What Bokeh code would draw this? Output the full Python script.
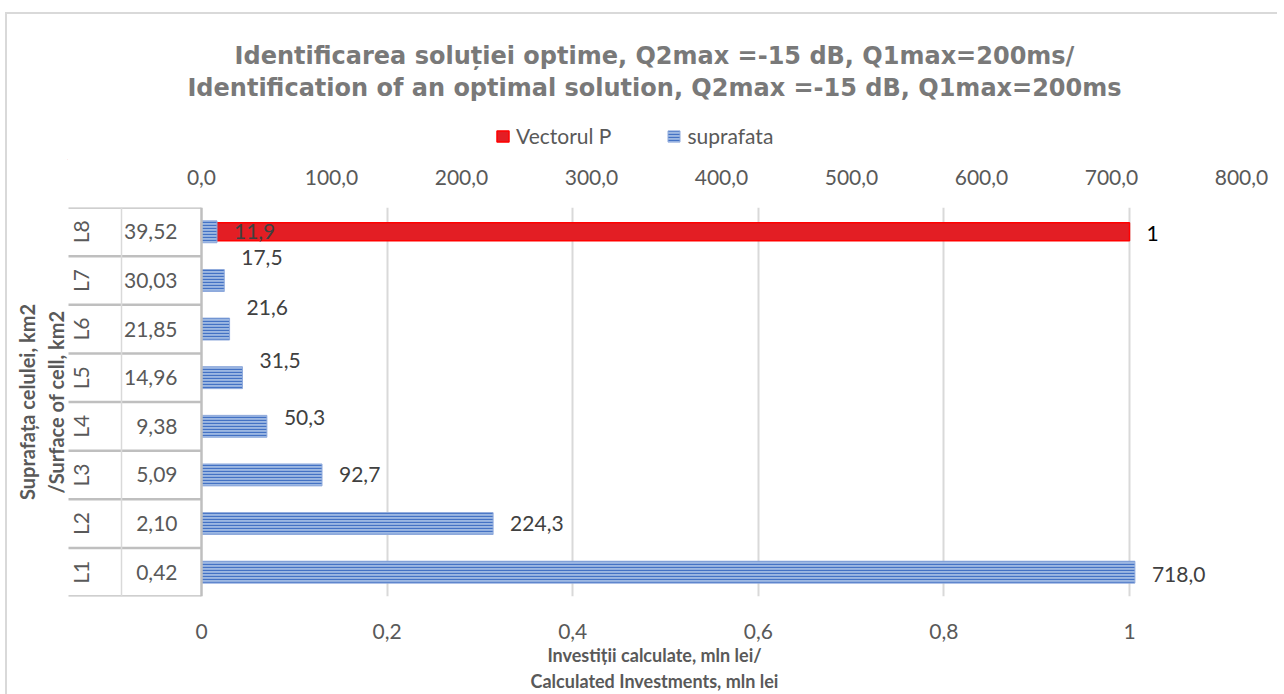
from math import pi
from bokeh.plotting import figure
from bokeh.layouts import column
from bokeh.models import (Range1d, FactorRange, LinearAxis, FixedTicker, Span,
                          Legend, LegendItem, Title, ColumnDataSource)
from bokeh.core.properties import value
from bokeh.embed import file_html
from bokeh.resources import INLINE

# ---------------- data ----------------
cells = ["L1", "L2", "L3", "L4", "L5", "L6", "L7", "L8"]
surface_km2 = [0.42, 2.10, 5.09, 9.38, 14.96, 21.85, 30.03, 39.52]
suprafata = [718.0, 224.3, 92.7, 50.3, 31.5, 21.6, 17.5, 11.9]       # top axis (mln lei)
vectorul_p = [0, 0, 0, 0, 0, 0, 0, 1]                                 # bottom axis
top_ticks = [0, 100, 200, 300, 400, 500, 600, 700, 800]
top_tick_labels = ["0,0", "100,0", "200,0", "300,0", "400,0", "500,0", "600,0", "700,0", "800,0"]
bottom_ticks = [0, 0.2, 0.4, 0.6, 0.8, 1.0]
bottom_tick_labels = ["0", "0,2", "0,4", "0,6", "0,8", "1"]
series_names = ["Vectorul P", "suprafata"]

title_1 = "Identificarea soluției optime, Q2max =-15 dB, Q1max=200ms/"
title_2 = "Identification of an optimal solution, Q2max =-15 dB, Q1max=200ms"
x_title = "Investiții calculate, mln lei/\nCalculated Investments, mln lei"
y_title = "Suprafața celulei, km2\n/Surface of cell, km2"

# ---------------- layout constants (page pixels) ----------------
OX, OY = 7, 14              # page position of the chart area (inside its border)
PAGE_R, PAGE_B = 1277, 694
W, H = PAGE_R - OX, PAGE_B - OY
HEAD_B = 160                # page y where header ends
HA = HEAD_B - OY
X0 = 201                    # page x of value 0
PX_BOT = 928.0              # px per bottom-axis unit
PX_TOP = 1.3                # px per top-axis unit
FL, FR, FT, FB = 67, 1241, 207, 599

def bx(px):
    return (px - X0) / PX_BOT

FONT = value("Lato")
GRAY = "#595959"
RED_STYLE = dict(fill_color="#E31E24", line_color="#FF0000", line_width=1.5)
BLUE_STYLE = dict(fill_color="#9DB8E2", line_color="#8FAADC", line_width=1,
                  hatch_pattern="horizontal_line", hatch_color="#4472C4",
                  hatch_scale=3, hatch_weight=1.3)

# ================= main chart =================
HB = H - HA
p = figure(width=W, height=HB, output_backend="svg", toolbar_location=None,
           title=None,
           x_range=Range1d(bx(FL), bx(FR)),
           y_range=FactorRange(factors=cells, range_padding=0),
           min_border_left=FL - OX, min_border_right=PAGE_R - FR,
           min_border_top=FT - HEAD_B, min_border_bottom=PAGE_B - FB)
p.extra_x_ranges = {"top": Range1d((FL - X0) / PX_TOP, (FR - X0) / PX_TOP)}
p.outline_line_color = None
p.background_fill_color = "white"
p.border_fill_color = "white"

# grid
p.ygrid.visible = False
p.xgrid.ticker = FixedTicker(ticks=bottom_ticks[1:])
p.xgrid.grid_line_color = "#D9D9D9"
p.xgrid.grid_line_width = 2

# bottom axis
xa = p.xaxis[0]
xa.ticker = FixedTicker(ticks=bottom_ticks)
xa.major_label_overrides = {t: l for t, l in zip(bottom_ticks, bottom_tick_labels)}
xa.axis_line_color = None
xa.major_tick_out = 0
xa.major_tick_in = 0
xa.minor_tick_out = 0
xa.minor_tick_in = 0
xa.major_label_standoff = 27
xa.major_label_text_font = "Lato"
xa.major_label_text_font_size = "21px"
xa.major_label_text_color = GRAY
xa.axis_label = x_title
xa.axis_label_standoff = 2
xa.axis_label_text_font = "Lato"
xa.axis_label_text_font_size = "18px"
xa.axis_label_text_font_style = "bold"
xa.axis_label_text_color = GRAY

# left axis: only the title
ya = p.yaxis[0]
ya.axis_line_color = None
ya.major_tick_out = 0
ya.major_tick_in = 0
ya.major_label_text_font_size = "1px"
ya.major_label_text_color = None
ya.major_label_standoff = 0
ya.axis_label = y_title
ya.axis_label_standoff = 0
ya.axis_label_text_font = "Lato"
ya.axis_label_text_font_size = "20px"
ya.axis_label_text_font_style = "bold"
ya.axis_label_text_color = GRAY

# top axis
ta = LinearAxis(x_range_name="top", ticker=FixedTicker(ticks=top_ticks))
ta.major_label_overrides = {t: l for t, l in zip(top_ticks, top_tick_labels)}
ta.axis_line_color = None
ta.major_tick_out = 0
ta.major_tick_in = 0
ta.minor_tick_out = 0
ta.minor_tick_in = 0
ta.major_label_standoff = 23
ta.major_label_text_font = "Lato"
ta.major_label_text_font_size = "21px"
ta.major_label_text_color = GRAY
p.add_layout(ta, "above")

# category table at left
tbl_left = bx(68)
tbl_mid = bx(121)
line_kw = dict(line_color="#BFBFBF", line_width=2.5)
p.segment(x0=[tbl_left] * 8, x1=[0] * 8, y0=[(c, -0.5) for c in cells],
          y1=[(c, -0.5) for c in cells], **line_kw)
p.segment(x0=[tbl_left], x1=[0], y0=[(cells[-1], 0.5)], y1=[(cells[-1], 0.5)], **line_kw)
p.segment(x0=[tbl_mid], x1=[tbl_mid], y0=[(cells[0], -0.5)], y1=[(cells[-1], 0.5)],
          line_color="#D9D9D9", line_width=1.5)
p.add_layout(Span(location=0, dimension="height", **line_kw))

p.text(x=[bx(80)] * 8, y=cells, text=cells, angle=pi / 2, text_align="center",
       text_baseline="middle", text_font=FONT, text_font_size="21px", text_color=GRAY)
p.text(x=[bx(177)] * 8, y=cells, text=[f"{v:.2f}".replace(".", ",") for v in surface_km2],
       text_align="right", text_baseline="middle", text_font=FONT,
       text_font_size="21px", text_color=GRAY)

# red bar (Vectorul P) on bottom axis
pv_cells = [c for c, v in zip(cells, vectorul_p) if v]
pv_vals = [v for v in vectorul_p if v]
p.hbar(y=pv_cells, left=0, right=pv_vals, height=0.37, **RED_STYLE)

# blue bars (suprafata) on top axis
p.hbar(y=cells, left=0, right=suprafata, height=0.45, x_range_name="top", **BLUE_STYLE)

# data labels
lbl_dy = [2, 0, 0, -9, -17, -22, -23, 0]
src = ColumnDataSource(dict(x=suprafata, y=cells, dy=lbl_dy,
                            t=[f"{v:.1f}".replace(".", ",") for v in suprafata]))
p.text(x="x", y="y", text="t", y_offset="dy", x_offset=17, source=src, x_range_name="top",
       text_align="left", text_baseline="middle", text_font=FONT,
       text_font_size="21px", text_color="#404040")
p.text(x=pv_vals, y=pv_cells, text=[str(v) for v in pv_vals], x_offset=17, y_offset=2,
       text_align="left", text_baseline="middle", text_font=FONT,
       text_font_size="21px", text_color="#000000")

# ================= header: titles + legend =================
hd = figure(width=W, height=HA, output_backend="svg", toolbar_location=None,
            title=None, x_axis_type=None, y_axis_type=None,
            x_range=Range1d(0, 1), y_range=Range1d(0, 1),
            min_border_left=FL - OX, min_border_right=PAGE_R - FR,
            min_border_top=102 - OY, min_border_bottom=0)
hd.outline_line_color = None
hd.grid.visible = False
hd.border_fill_color = "white"

# legend swatches: same styles as the chart's bars; the swatch bars themselves
# lie outside the header's visible range so only the legend shows them
r_red = hd.hbar(y=[-5], left=[-5], right=[-4], height=0.5, **RED_STYLE)
r_blue = hd.hbar(y=[-5], left=[-5], right=[-4], height=0.5, **BLUE_STYLE)
leg = Legend(items=[LegendItem(label=series_names[0], renderers=[r_red]),
                    LegendItem(label=series_names[1], renderers=[r_blue])],
             orientation="horizontal", location=(428, 12),
             margin=0, padding=0, spacing=55,
             glyph_width=15, glyph_height=14, label_standoff=6,
             label_text_font="Lato", label_text_font_size="21px",
             label_text_color=GRAY, border_line_color=None,
             background_fill_alpha=0)
hd.add_layout(leg, "center")

t2 = Title(text=title_2, align="center", text_font="DejaVu Sans", text_font_size="24px",
           text_font_style="bold", text_color="#797979", standoff=2)
hd.add_layout(t2, "above")
t1 = Title(text=title_1, align="center", text_font="DejaVu Sans", text_font_size="24px",
           text_font_style="bold", text_color="#797979", standoff=2)
hd.add_layout(t1, "above")

layout = column(hd, p, spacing=0, margin=(OY - 2, 0, 0, OX - 2),
                styles={"border-top": "2px solid #D9D9D9",
                        "border-left": "2px solid #D9D9D9"})
open("out.html", "w").write(file_html(layout, INLINE))
